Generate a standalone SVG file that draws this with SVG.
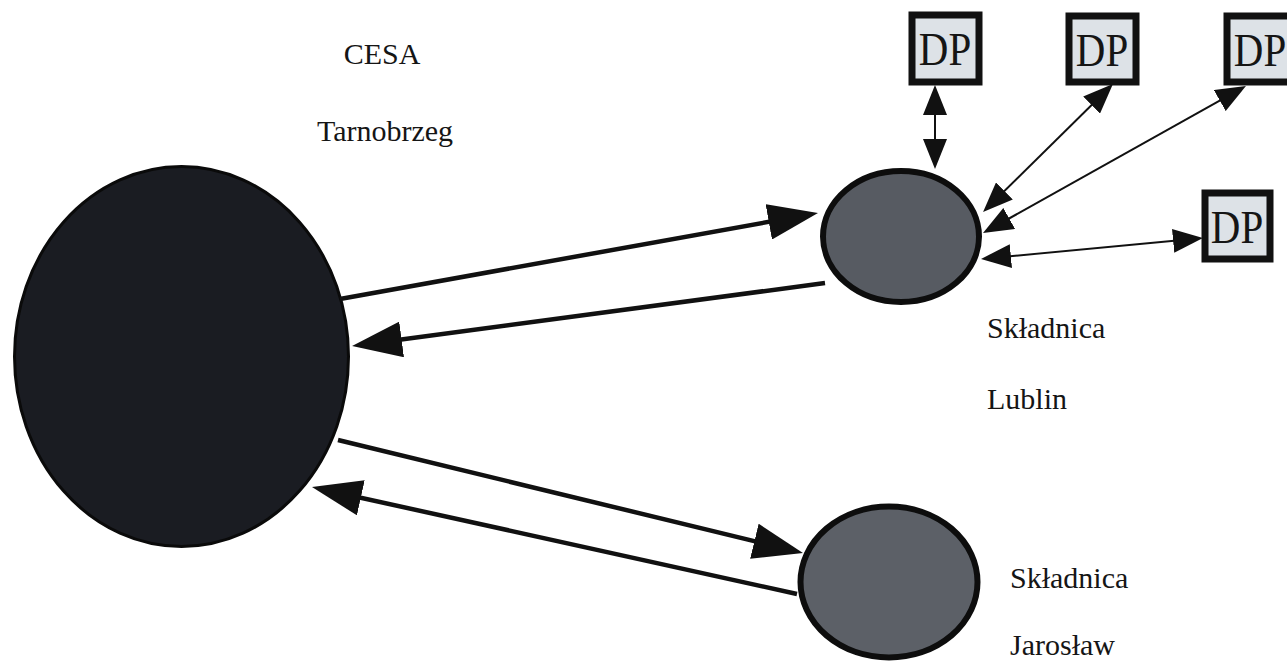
<svg xmlns="http://www.w3.org/2000/svg" width="1287" height="663" viewBox="0 0 1287 663">
<defs>
<style>
.lbl{font-family:"Liberation Serif","Times New Roman",serif;font-size:30px;fill:#151515}
.dp{font-family:"Liberation Serif","Times New Roman",serif;font-size:41px;fill:#151515;text-anchor:middle}
.box{fill:#dde2e7;stroke:#111;stroke-width:7}
.thick{stroke:#111;stroke-width:4.5;fill:none}
.thin{stroke:#111;stroke-width:2;fill:none}
</style>
<marker id="ah" viewBox="0 0 50 36" refX="42" refY="18" markerWidth="50" markerHeight="36" markerUnits="userSpaceOnUse" orient="auto">
<path d="M0,0 L50,18 L0,36 z" fill="#111"/>
</marker>
<marker id="as" viewBox="0 0 30 24" refX="25" refY="12" markerWidth="30" markerHeight="24" markerUnits="userSpaceOnUse" orient="auto-start-reverse">
<path d="M0,0 L30,12 L0,24 z" fill="#111"/>
</marker>
</defs>
<rect width="1287" height="663" fill="#fff"/>
<g id="tarnobrzeg">
<ellipse cx="181.5" cy="356.5" rx="167" ry="190" fill="#1a1c22" stroke="#0a0a0a" stroke-width="3"/>
<text class="lbl" x="382" y="64" text-anchor="middle">CESA</text>
<text class="lbl" x="385" y="141" text-anchor="middle">Tarnobrzeg</text>
</g>
<g id="lublin">
<ellipse cx="901" cy="236.5" rx="78" ry="65.5" fill="#575b62" stroke="#0d0d0d" stroke-width="6"/>
<text class="lbl" x="987" y="338">Składnica</text>
<text class="lbl" x="987" y="409">Lublin</text>
</g>
<g id="jaroslaw">
<ellipse cx="889" cy="582" rx="88.5" ry="75.5" fill="#5c6067" stroke="#0d0d0d" stroke-width="6"/>
<text class="lbl" x="1010" y="588">Składnica</text>
<text class="lbl" x="1010" y="655">Jarosław</text>
</g>
<g id="dp1">
<rect class="box" x="912" y="15" width="67" height="67"/>
<text class="dp" transform="translate(945,65) scale(1,1.12)">DP</text>
</g>
<g id="dp2">
<rect class="box" x="1069" y="16" width="67" height="66"/>
<text class="dp" transform="translate(1102,66) scale(1,1.12)">DP</text>
</g>
<g id="dp3">
<rect class="box" x="1227" y="16" width="67" height="66"/>
<text class="dp" transform="translate(1260,66) scale(1,1.12)">DP</text>
</g>
<g id="dp4">
<rect class="box" x="1205" y="193" width="65" height="66"/>
<text class="dp" transform="translate(1237,243) scale(1,1.12)">DP</text>
</g>
<g id="connectors">
<line class="thick" x1="340" y1="299" x2="810.1" y2="214.4" marker-end="url(#ah)"/>
<line class="thick" x1="825" y1="283" x2="360" y2="345" marker-end="url(#ah)"/>
<line class="thick" x1="338" y1="440" x2="795.2" y2="551.1" marker-end="url(#ah)"/>
<line class="thick" x1="797" y1="594" x2="319.8" y2="488.7" marker-end="url(#ah)"/>
<line class="thin" x1="935" y1="90" x2="935" y2="164" marker-start="url(#as)" marker-end="url(#as)"/>
<line class="thin" x1="1109.4" y1="87.5" x2="986.6" y2="208.5" marker-start="url(#as)" marker-end="url(#as)"/>
<line class="thin" x1="1241.6" y1="88.4" x2="987.4" y2="230.6" marker-start="url(#as)" marker-end="url(#as)"/>
<line class="thin" x1="986" y1="258.5" x2="1198" y2="238.5" marker-start="url(#as)" marker-end="url(#as)"/>
</g>
</svg>
